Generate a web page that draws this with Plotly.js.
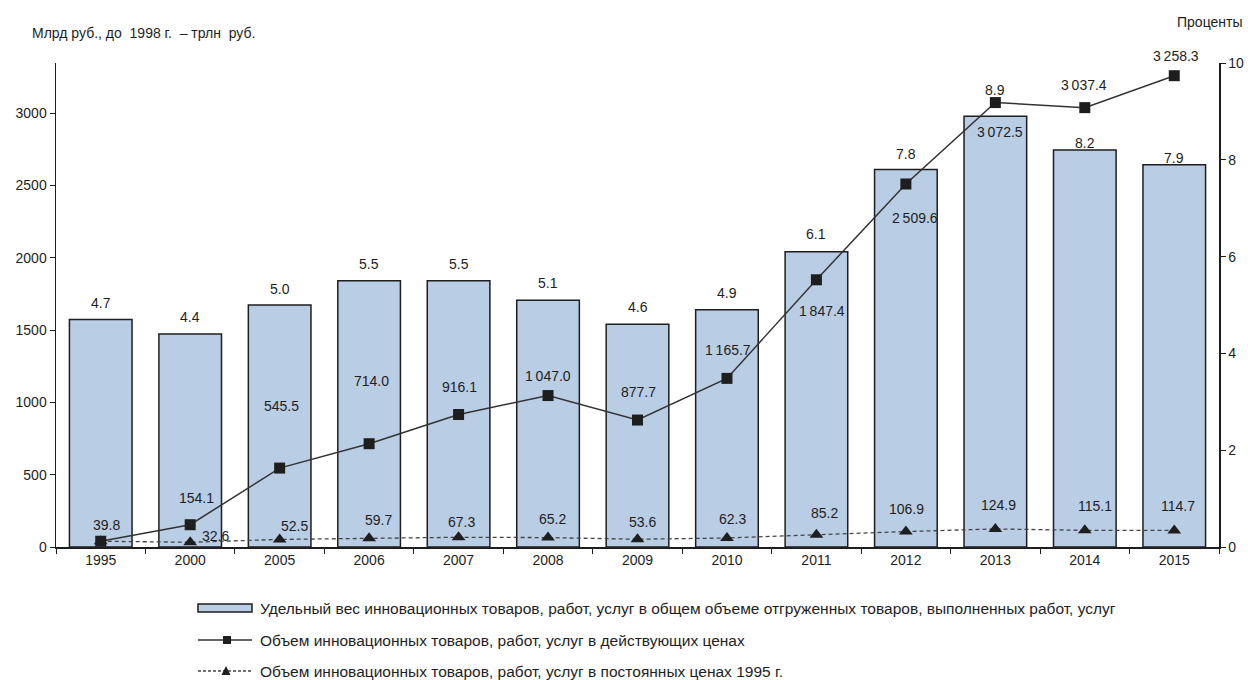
<!DOCTYPE html>
<html>
<head>
<meta charset="utf-8">
<script src="https://cdn.plot.ly/plotly-3.0.1.min.js"></script>
<style>html,body{margin:0;padding:0;background:#fff;}#chart{width:1248px;height:680px;}</style>
</head>
<body>
<div id="chart"></div>
<script>
const years = ['1995','2000','2005','2006','2007','2008','2009','2010','2011','2012','2013','2014','2015'];
const sharePct = [4.7, 4.4, 5.0, 5.5, 5.5, 5.1, 4.6, 4.9, 6.1, 7.8, 8.9, 8.2, 7.9];
const volumeCurrent = [39.8, 154.1, 545.5, 714.0, 916.1, 1047.0, 877.7, 1165.7, 1847.4, 2509.6, 3072.5, 3037.4, 3258.3];
const volumeConst1995 = [39.8, 32.6, 52.5, 59.7, 67.3, 65.2, 53.6, 62.3, 85.2, 106.9, 124.9, 115.1, 114.7];

const seriesNames = [
  'Удельный вес инновационных товаров, работ, услуг в общем объеме отгруженных товаров, выполненных работ, услуг',
  'Объем инновационных товаров, работ, услуг в действующих ценах',
  'Объем инновационных товаров, работ, услуг в постоянных ценах 1995 г.'
];
const leftAxisTitle = 'Млрд руб., до  1998 г.  – трлн  руб.';
const rightAxisTitle = 'Проценты';

function fmt(v){
  const s = v.toFixed(1);
  const parts = s.split('.');
  return parts[0].replace(/\B(?=(\d{3})+(?!\d))/g, '\u2009') + '.' + parts[1];
}

const FONT = 'Liberation Sans, Arial, sans-serif';
const INK = '#1e1e1e';
const BAR_FILL = '#b9cde5';
const FS = 14;

// label offsets in pixels [dx, dy-up] — layout only, matching the original label placement
const barLabelLift = [17, 17, 16, 17, 17, 17, 17, 17, 18, 15, 26, 7, 7];
const curLabelOffset = [[6,16],[6,27],[2,62],[2,63],[1,27],[0,20],[1,28],[1,28],[6,-31],[9,-34],[5,-29],[-1,23],[2,20]];
const constLabelOffset = [null,[25,6],[15,13],[9,18],[3,15],[4,19],[5,17],[6,19],[8,22],[1,23],[3,24],[10,24],[4,24]];

const traces = [
  {
    type: 'bar', x: years, y: sharePct, yaxis: 'y', name: seriesNames[0],
    marker: {color: BAR_FILL, line: {color: INK, width: 1.5}},
    showlegend: false, hoverinfo: 'x+y'
  },
  {
    type: 'scatter', mode: 'lines+markers', x: years, y: volumeCurrent, yaxis: 'y2', name: seriesNames[1],
    line: {color: '#333', width: 1.5},
    marker: {symbol: 'square', size: 11, color: INK},
    cliponaxis: false, showlegend: false
  },
  {
    type: 'scatter', mode: 'lines+markers', x: years, y: volumeConst1995, yaxis: 'y2', name: seriesNames[2],
    line: {color: '#444', width: 1.3, dash: '4px,3px'},
    marker: {symbol: 'triangle-up', size: 12, color: INK},
    cliponaxis: false, showlegend: false
  }
];

const labelFont = {family: FONT, size: FS, color: INK};
const barLabels = sharePct.map((v, i) => ({
  xref: 'x', yref: 'y', x: i, y: v, yanchor: 'middle', xanchor: 'center',
  yshift: barLabelLift[i], showarrow: false, text: v.toFixed(1), font: labelFont
}));
const curLabels = volumeCurrent.map((v, i) => ({
  xref: 'x', yref: 'y2', x: i, y: v, yanchor: 'middle', xanchor: 'center',
  xshift: curLabelOffset[i][0], yshift: curLabelOffset[i][1], showarrow: false, text: fmt(v), font: labelFont
}));
const constLabels = [];
volumeConst1995.forEach((v, i) => {
  if (!constLabelOffset[i]) return;
  constLabels.push({
    xref: 'x', yref: 'y2', x: i, y: v, yanchor: 'middle', xanchor: 'center',
    xshift: constLabelOffset[i][0], yshift: constLabelOffset[i][1], showarrow: false, text: fmt(v), font: labelFont
  });
});

// custom legend in paper coordinates
const PX = px => (px - 56) / 1163;
const PY = py => (547 - py) / 484;
const legendShapes = [
  {type: 'rect', xref: 'paper', yref: 'paper', x0: PX(198), x1: PX(252), y0: PY(612), y1: PY(604),
   fillcolor: BAR_FILL, line: {color: INK, width: 1.5}},
  {type: 'line', xref: 'paper', yref: 'paper', x0: PX(198), x1: PX(252), y0: PY(640), y1: PY(640),
   line: {color: '#333', width: 1.5}},
  {type: 'rect', xref: 'paper', yref: 'paper', x0: PX(223), x1: PX(231), y0: PY(644), y1: PY(636),
   fillcolor: INK, line: {color: INK, width: 0}},
  {type: 'line', xref: 'paper', yref: 'paper', x0: PX(198), x1: PX(252), y0: PY(671), y1: PY(671),
   line: {color: '#444', width: 1.3, dash: '3px,2px'}},
  {type: 'path', xref: 'paper', yref: 'paper',
   path: 'M ' + PX(221.5) + ' ' + PY(675) + ' L ' + PX(230.5) + ' ' + PY(675) + ' L ' + PX(226) + ' ' + PY(666) + ' Z',
   fillcolor: INK, line: {color: INK, width: 0}}
];
const legendTexts = [608, 640, 671].map((py, i) => ({
  xref: 'paper', yref: 'paper', x: PX(258), y: PY(py), xanchor: 'left', yanchor: 'middle',
  showarrow: false, text: seriesNames[i], font: {family: FONT, size: 15.5, color: INK}
}));

const layout = {
  width: 1248, height: 680,
  margin: {l: 56, r: 29, t: 63, b: 133},
  paper_bgcolor: '#fff', plot_bgcolor: '#fff',
  font: {family: FONT, size: FS, color: INK},
  bargap: 0.3,
  showlegend: false,
  xaxis: {type: 'category', range: [-0.5, 12.5], showline: true, linecolor: INK, linewidth: 1.5,
          ticks: 'outside', tickson: 'boundaries', ticklen: 5, tickcolor: INK,
          showgrid: false, zeroline: false, tickfont: {size: FS, color: INK}},
  yaxis: {range: [0, 10], side: 'right', showline: true, linecolor: INK, linewidth: 1.5,
          ticks: 'outside', ticklen: 5, tickcolor: INK, tickvals: [0,2,4,6,8,10],
          showgrid: false, zeroline: false, tickfont: {size: FS, color: INK}},
  yaxis2: {range: [0, 3346], overlaying: 'y', side: 'left', showline: true, linecolor: INK, linewidth: 1.5,
           ticks: 'outside', ticklen: 5, tickcolor: INK, tickvals: [0,500,1000,1500,2000,2500,3000],
           showgrid: false, zeroline: false, tickfont: {size: FS, color: INK}},
  shapes: legendShapes,
  annotations: [
    {xref: 'paper', yref: 'paper', x: PX(30), y: PY(33), xanchor: 'left', yanchor: 'middle', showarrow: false,
     text: leftAxisTitle, font: {family: FONT, size: 14, color: INK}},
    {xref: 'paper', yref: 'paper', x: PX(1245), y: PY(22), xanchor: 'right', yanchor: 'middle', showarrow: false,
     text: rightAxisTitle, font: {family: FONT, size: 14, color: INK}}
  ].concat(barLabels, curLabels, constLabels, legendTexts)
};

Plotly.newPlot('chart', traces, layout, {displayModeBar: false, staticPlot: true});
</script>
</body>
</html>
